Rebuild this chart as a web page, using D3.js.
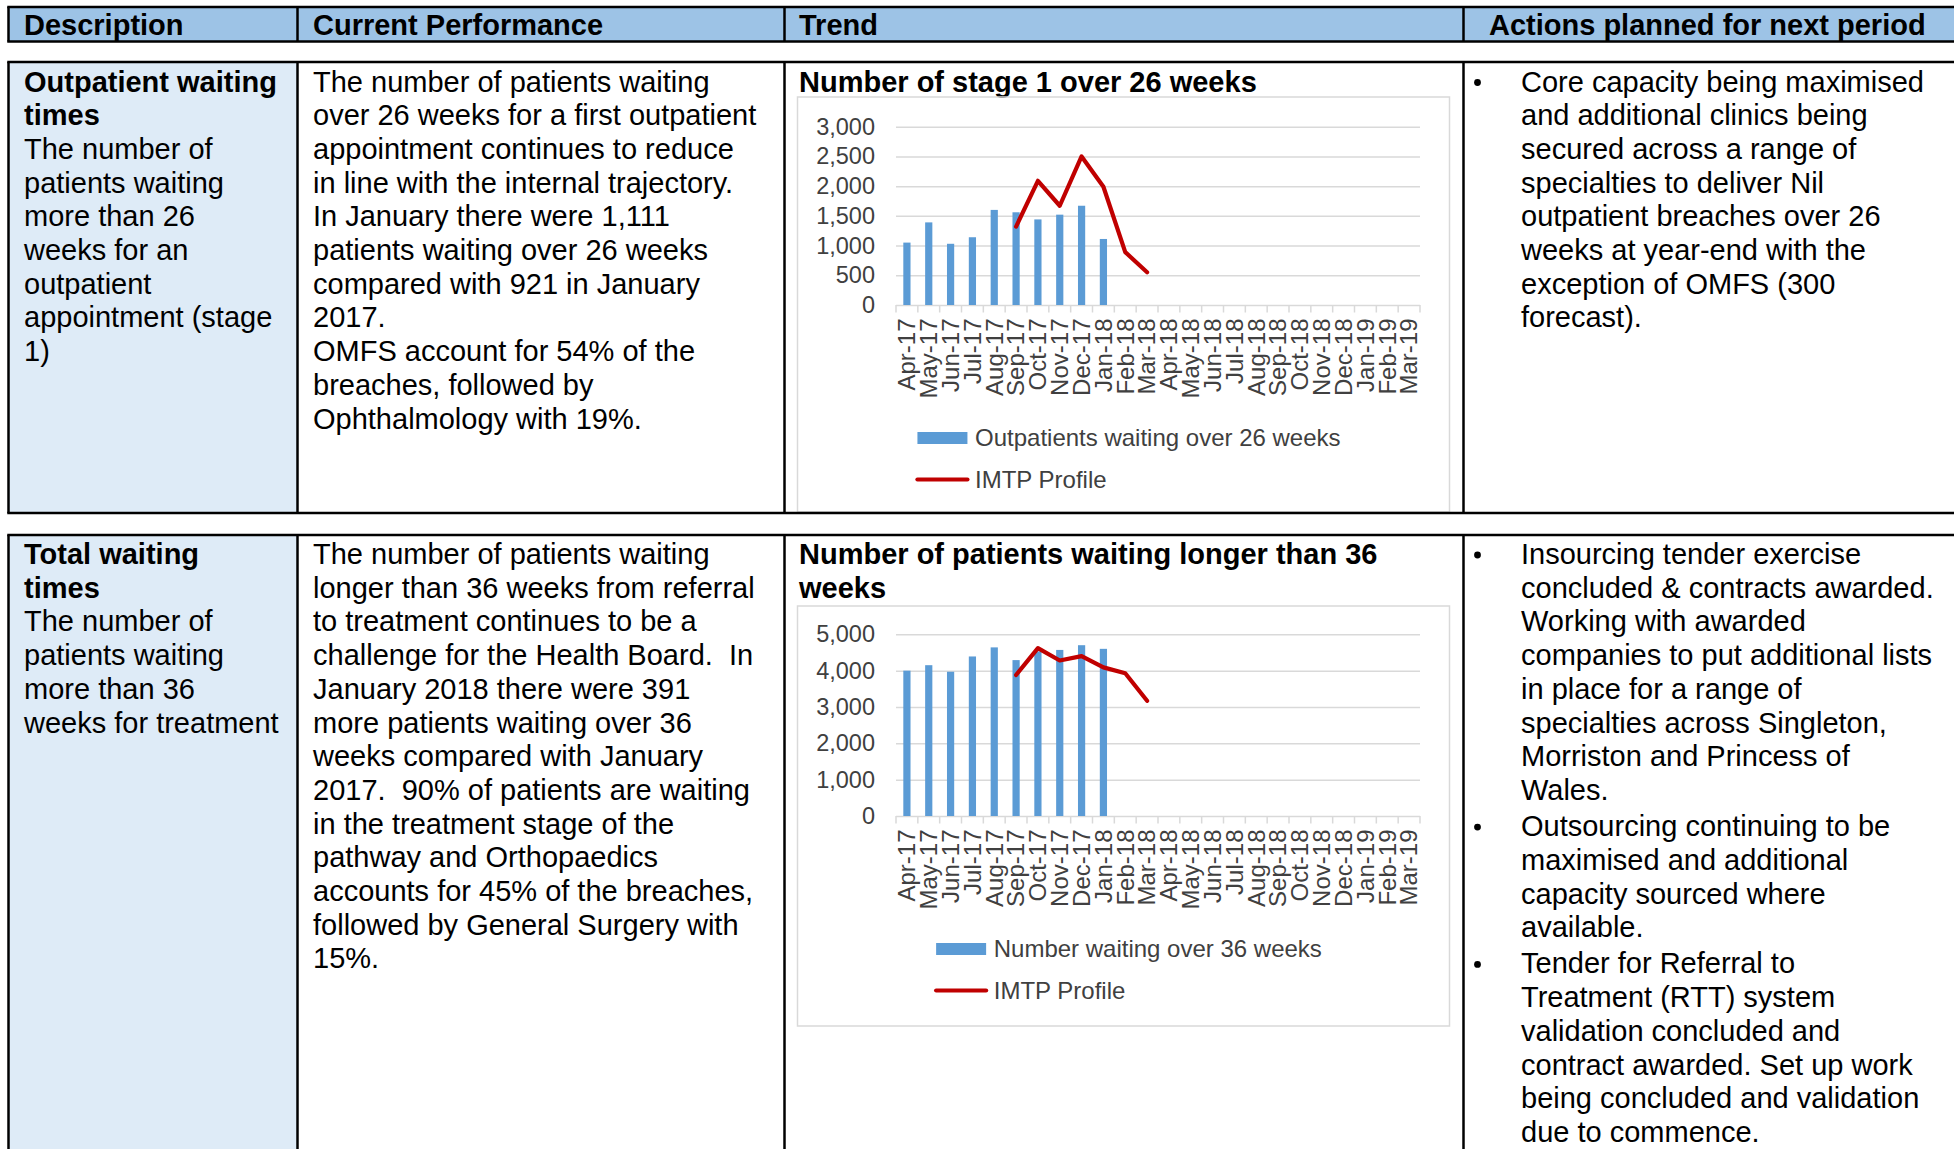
<!DOCTYPE html>
<html>
<head>
<meta charset="utf-8">
<script src="https://cdn.jsdelivr.net/npm/d3@7"></script>
<style>
  body { margin: 0; background: #fff; }
  svg { display: block; }
  text { white-space: pre; }
</style>
</head>
<body>
<script>
// ---- data ----
const headers = ["Description", "Current Performance", "Trend", "Actions planned for next period"];

const months = ["Apr-17", "May-17", "Jun-17", "Jul-17", "Aug-17", "Sep-17", "Oct-17", "Nov-17",
    "Dec-17", "Jan-18", "Feb-18", "Mar-18", "Apr-18", "May-18", "Jun-18", "Jul-18", "Aug-18",
    "Sep-18", "Oct-18", "Nov-18", "Dec-18", "Jan-19", "Feb-19", "Mar-19"];

// stage 1 outpatients over 26 weeks (Apr-17 .. Jan-18), IMTP profile (null where not set)
const outpatients26 = [1050, 1390, 1030, 1140, 1600, 1560, 1440, 1520, 1670, 1111];
const outpatientsImtp = [null, null, null, null, null, 1320, 2090, 1670, 2500, 1990, 890, 550];
const outpatientsTicks = [0, 500, 1000, 1500, 2000, 2500, 3000];

// total waiting over 36 weeks
const waiting36 = [4000, 4150, 3970, 4390, 4640, 4290, 4530, 4570, 4700, 4600];
const waitingImtp = [null, null, null, null, null, 3880, 4620, 4280, 4400, 4090, 3930, 3170];
const waitingTicks = [0, 1000, 2000, 3000, 4000, 5000];

const row1Title = ["Outpatient waiting", "times"];
const row1Desc = ["The number of", "patients waiting", "more than 26", "weeks for an", "outpatient",
    "appointment (stage", "1)"];
const row1Perf = ["The number of patients waiting", "over 26 weeks for a first outpatient",
    "appointment continues to reduce", "in line with the internal trajectory.",
    "In January there were 1,111", "patients waiting over 26 weeks", "compared with 921 in January",
    "2017.", "OMFS account for 54% of the", "breaches, followed by", "Ophthalmology with 19%."];
const row1ChartTitle = ["Number of stage 1 over 26 weeks"];
const row1Actions = [
    ["Core capacity being maximised", "and additional clinics being", "secured across a range of",
     "specialties to deliver Nil", "outpatient breaches over 26", "weeks at year-end with the",
     "exception of OMFS (300", "forecast)."]
];

const row2Title = ["Total waiting", "times"];
const row2Desc = ["The number of", "patients waiting", "more than 36", "weeks for treatment"];
const row2Perf = ["The number of patients waiting", "longer than 36 weeks from referral",
    "to treatment continues to be a", "challenge for the Health Board.  In",
    "January 2018 there were 391", "more patients waiting over 36", "weeks compared with January",
    "2017.  90% of patients are waiting", "in the treatment stage of the", "pathway and Orthopaedics",
    "accounts for 45% of the breaches,", "followed by General Surgery with", "15%."];
const row2ChartTitle = ["Number of patients waiting longer than 36", "weeks"];
const row2Actions = [
    ["Insourcing tender exercise", "concluded & contracts awarded.", "Working with awarded",
     "companies to put additional lists", "in place for a range of", "specialties across Singleton,",
     "Morriston and Princess of", "Wales."],
    ["Outsourcing continuing to be", "maximised and additional", "capacity sourced where",
     "available."],
    ["Tender for Referral to", "Treatment (RTT) system", "validation concluded and",
     "contract awarded. Set up work", "being concluded and validation", "due to commence."]
];

// ---- layout ----
const width = 1954, height = 1149;
const font = '"Liberation Sans", Arial, sans-serif';
const colX = [8.5, 297.5, 784.5, 1463.5];
const textX = [24, 313, 799, 1521];
const pitch = 33.7;
const textSize = 29;

let svg = d3.select("body").append("svg")
    .attr("width", width)
    .attr("height", height)
    .style("font-family", font);

function lines(x, y0, list, bold) {
    svg.append("g").selectAll("text")
        .data(list)
        .enter().append("text")
        .attr("x", x)
        .attr("y", (d, i) => y0 + i * pitch)
        .attr("font-size", textSize)
        .attr("font-weight", bold ? "bold" : "normal")
        .attr("fill", "#000")
        .text(d => d);
}

function cellBorders(y0, y1) {
    let g = svg.append("g").attr("stroke", "#000").attr("stroke-width", 2.5);
    g.append("line").attr("x1", colX[0] - 1.25).attr("x2", width).attr("y1", y0).attr("y2", y0);
    g.append("line").attr("x1", colX[0] - 1.25).attr("x2", width).attr("y1", y1).attr("y2", y1);
    colX.forEach(cx => {
        g.append("line").attr("x1", cx).attr("x2", cx).attr("y1", y0).attr("y2", y1);
    });
}

// header row
svg.append("rect")
    .attr("x", colX[0]).attr("y", 7)
    .attr("width", width - colX[0]).attr("height", 34.5)
    .attr("fill", "#9dc3e6");
cellBorders(7, 41.5);
svg.append("g").selectAll("text")
    .data(headers)
    .enter().append("text")
    .attr("x", (d, i) => i === 3 ? 1489 : textX[i])
    .attr("y", 35)
    .attr("font-size", textSize)
    .attr("font-weight", "bold")
    .text(d => d);

function bullets(y0, paras) {
    let y = y0;
    paras.forEach(p => {
        svg.append("circle").attr("cx", 1477.5).attr("cy", y - 9).attr("r", 3.4).attr("fill", "#000");
        lines(textX[3], y, p, false);
        y += p.length * pitch + 2.5;
    });
}

function drawChart(opt) {
    let g = svg.append("g");
    const x0 = 896, x1 = 1420;

    g.append("rect")
        .attr("x", 797.5).attr("y", opt.boxTop)
        .attr("width", 652).attr("height", opt.boxBottom - opt.boxTop)
        .attr("fill", "none").attr("stroke", "#d9d9d9").attr("stroke-width", 1.5);

    let x = d3.scaleBand().domain(months).range([x0, x1]).paddingInner(0.67).paddingOuter(0.335);
    let y = d3.scaleLinear().domain([0, opt.max]).range([opt.axisY, opt.topY]);
    const bw = x.bandwidth();

    let yAxis = g.append("g")
        .attr("transform", "translate(" + x0 + ",0)")
        .call(d3.axisLeft(y).tickValues(opt.ticks).tickSize(-(x1 - x0)).tickPadding(21)
            .tickFormat(d3.format(",")));
    yAxis.select(".domain").remove();
    yAxis.selectAll("line").attr("stroke", "#d9d9d9").attr("stroke-width", 1.5);
    yAxis.selectAll("text")
        .attr("fill", "#404040").attr("font-size", 23.5).attr("font-family", font);

    // category boundary ticks
    let bounds = months.map(m => x(m) + bw / 2 - x.step() / 2).concat([x1]);
    g.append("g").selectAll("line")
        .data(bounds)
        .enter().append("line")
        .attr("x1", d => d).attr("x2", d => d)
        .attr("y1", opt.axisY).attr("y2", opt.axisY + 7.5)
        .attr("stroke", "#d9d9d9").attr("stroke-width", 1.5);

    g.append("g").selectAll("text")
        .data(months)
        .enter().append("text")
        .attr("transform", d => "translate(" + (x(d) + bw / 2) + "," + (opt.axisY + 13.5) + ")rotate(-90)")
        .attr("text-anchor", "end")
        .attr("dy", "0.35em")
        .attr("font-size", 24)
        .attr("fill", "#404040")
        .text(d => d);

    g.append("g").selectAll("rect")
        .data(opt.bars)
        .enter().append("rect")
        .attr("x", (d, i) => x(months[i]))
        .attr("y", d => y(d))
        .attr("width", bw)
        .attr("height", d => opt.axisY - y(d))
        .attr("fill", "#5b9bd5");

    let line = d3.line()
        .defined(d => d != null)
        .x((d, i) => x(months[i]) + bw / 2)
        .y(d => y(d));
    g.append("path")
        .datum(opt.line)
        .attr("d", line)
        .attr("fill", "none")
        .attr("stroke", "#c00000")
        .attr("stroke-width", 4.2)
        .attr("stroke-linejoin", "round")
        .attr("stroke-linecap", "round");

    // legend, centred under the plot
    let leg = g.append("g");
    let t1 = leg.append("text").attr("x", 57.6).attr("y", opt.axisY + 133).attr("dy", "0.35em")
        .attr("font-size", 24).attr("fill", "#404040").text(opt.barLabel);
    leg.append("text").attr("x", 57.6).attr("y", opt.axisY + 174.5).attr("dy", "0.35em")
        .attr("font-size", 24).attr("fill", "#404040").text("IMTP Profile");
    leg.append("rect").attr("x", 0).attr("y", opt.axisY + 127).attr("width", 50).attr("height", 12)
        .attr("fill", "#5b9bd5");
    leg.append("line").attr("x1", 0).attr("x2", 50)
        .attr("y1", opt.axisY + 174.5).attr("y2", opt.axisY + 174.5)
        .attr("stroke", "#c00000").attr("stroke-width", 4.2).attr("stroke-linecap", "round");
    const legW = 57.6 + t1.node().getComputedTextLength();
    leg.attr("transform", "translate(" + (1129 - legW / 2) + ",0)");
}

// row 1
svg.append("rect").attr("x", colX[0]).attr("y", 62).attr("width", colX[1] - colX[0]).attr("height", 451)
    .attr("fill", "#deebf7");
let b1 = 91.5;
lines(textX[0], b1, row1Title, true);
lines(textX[0], b1 + 2 * pitch, row1Desc, false);
lines(textX[1], b1, row1Perf, false);
lines(textX[2], b1, row1ChartTitle, true);
bullets(b1, row1Actions);
drawChart({
    boxTop: 97, boxBottom: 512, axisY: 305, topY: 126.7, max: 3000,
    ticks: outpatientsTicks, bars: outpatients26, line: outpatientsImtp,
    barLabel: "Outpatients waiting over 26 weeks"
});
cellBorders(62, 513);

// row 2
svg.append("rect").attr("x", colX[0]).attr("y", 535).attr("width", colX[1] - colX[0]).attr("height", 630)
    .attr("fill", "#deebf7");
let b2 = 564;
lines(textX[0], b2, row2Title, true);
lines(textX[0], b2 + 2 * pitch, row2Desc, false);
lines(textX[1], b2, row2Perf, false);
lines(textX[2], b2, row2ChartTitle, true);
bullets(b2, row2Actions);
drawChart({
    boxTop: 606, boxBottom: 1026, axisY: 816, topY: 634.3, max: 5000,
    ticks: waitingTicks, bars: waiting36, line: waitingImtp,
    barLabel: "Number waiting over 36 weeks"
});
cellBorders(535, 1170);
</script>
</body>
</html>
